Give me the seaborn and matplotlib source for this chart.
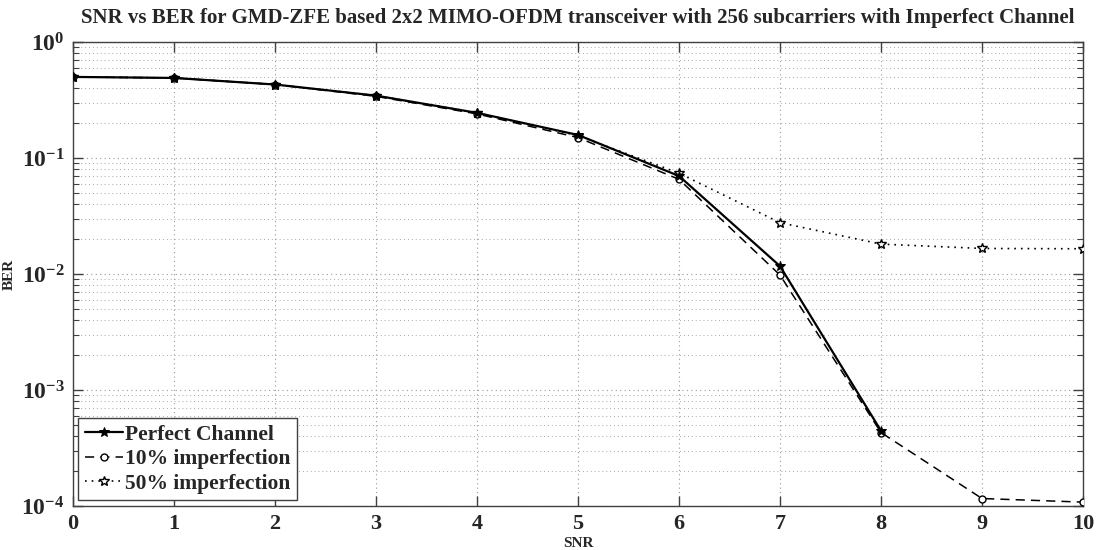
import numpy as np
import pandas as pd
import matplotlib
matplotlib.use("Agg")
import matplotlib.pyplot as plt
import matplotlib.ticker as mticker
import seaborn as sns

# ---- data ----
snr_perfect = [0, 1, 2, 3, 4, 5, 6, 7, 8]
ber_perfect = [0.50, 0.49, 0.43, 0.345, 0.245, 0.158, 0.070, 0.0117, 4.45e-4]
snr_10 = [0, 1, 2, 3, 4, 5, 6, 7, 8, 9, 10]
ber_10 = [0.50, 0.49, 0.43, 0.34, 0.24, 0.150, 0.0655, 0.0098, 4.3e-4, 1.16e-4, 1.08e-4]
snr_50 = [0, 1, 2, 3, 4, 5, 6, 7, 8, 9, 10]
ber_50 = [0.50, 0.49, 0.43, 0.345, 0.245, 0.156, 0.074, 0.0277, 0.0181, 0.0166, 0.0165]
labels = ["Perfect Channel", "10% imperfection", "50% imperfection"]
title = "SNR vs BER for GMD-ZFE based 2x2 MIMO-OFDM transceiver with 256 subcarriers with Imperfect Channel"
xticks = list(range(0, 11))

sns.set_theme(style="white")
plt.rcParams["font.family"] = ["Liberation Serif", "DejaVu Serif"]
plt.rcParams["font.weight"] = "bold"
plt.rcParams["mathtext.fontset"] = "custom"
plt.rcParams["mathtext.rm"] = "Liberation Serif:bold"
plt.rcParams["mathtext.bf"] = "Liberation Serif:bold"

fig = plt.figure(figsize=(10.99, 5.5), dpi=100)
ax = fig.add_axes([73 / 1099, 1 - 506 / 550, (1083 - 73) / 1099, (506 - 42) / 550])

df_p = pd.DataFrame({"SNR": snr_perfect, "BER": ber_perfect})
df_10 = pd.DataFrame({"SNR": snr_10, "BER": ber_10})
df_50 = pd.DataFrame({"SNR": snr_50, "BER": ber_50})

sns.lineplot(data=df_p, x="SNR", y="BER", ax=ax, color="black", linestyle="-",
             linewidth=1.6, marker="*", markersize=7, markeredgecolor="black",
             markerfacecolor="black", label=labels[0], zorder=5)
sns.lineplot(data=df_10, x="SNR", y="BER", ax=ax, color="black", linestyle=(0, (6, 4)),
             linewidth=1.1, marker="o", markersize=5, markeredgecolor="black",
             markerfacecolor="white", markeredgewidth=1.0, label=labels[1], zorder=4)
sns.lineplot(data=df_50, x="SNR", y="BER", ax=ax, color="black", linestyle=(0, (1, 3)),
             linewidth=1.2, marker="*", markersize=7, markeredgecolor="black",
             markerfacecolor="white", markeredgewidth=1.0, label=labels[2], zorder=3)

ax.set_yscale("log")
ax.set_ylim(1e-4, 1)
ax.set_xlim(0, 10)
ax.set_xticks(xticks)
ax.set_xticklabels([str(t) for t in xticks], fontsize=16, fontweight="bold")
ax.yaxis.set_major_locator(mticker.LogLocator(base=10, numticks=10))
ax.yaxis.set_minor_locator(mticker.LogLocator(base=10, subs=np.arange(2, 10), numticks=100))
ax.yaxis.set_major_formatter(mticker.FuncFormatter(lambda v, p: r"$\mathbf{10^{%d}}$" % round(np.log10(v))))
ax.yaxis.set_minor_formatter(mticker.NullFormatter())
for lab in ax.get_yticklabels():
    lab.set_fontsize(17)

ax.grid(True, which="major", axis="both", color="#9a9a9a", linestyle=(0, (1, 3)), linewidth=0.8)
ax.grid(True, which="minor", axis="y", color="#a8a8a8", linestyle=(0, (1, 3)), linewidth=0.7)
ax.tick_params(which="both", direction="in", top=True, right=True, bottom=True, left=True,
               color="#404040")
ax.tick_params(which="major", length=7, width=1, pad=6)
ax.tick_params(which="minor", length=4, width=0.8)
for s in ax.spines.values():
    s.set_color("#404040")
    s.set_linewidth(1.0)

ax.set_title(title, fontsize=15, fontweight="bold", pad=14)
ax.set_xlabel("SNR", fontsize=11, fontweight="bold", labelpad=2)
ax.set_ylabel("BER", fontsize=11, fontweight="bold", labelpad=4)

leg = ax.legend(loc="lower left", bbox_to_anchor=(0.005, 0.013), fontsize=15.5,
                frameon=True, fancybox=False, edgecolor="#404040", framealpha=1,
                handlelength=1.8, handletextpad=0.1, borderpad=0.3, labelspacing=0.2,
                borderaxespad=0.0)
leg.get_frame().set_linewidth(1.0)
for t in leg.get_texts():
    t.set_fontweight("bold")

fig.savefig("out.png", dpi=100)
